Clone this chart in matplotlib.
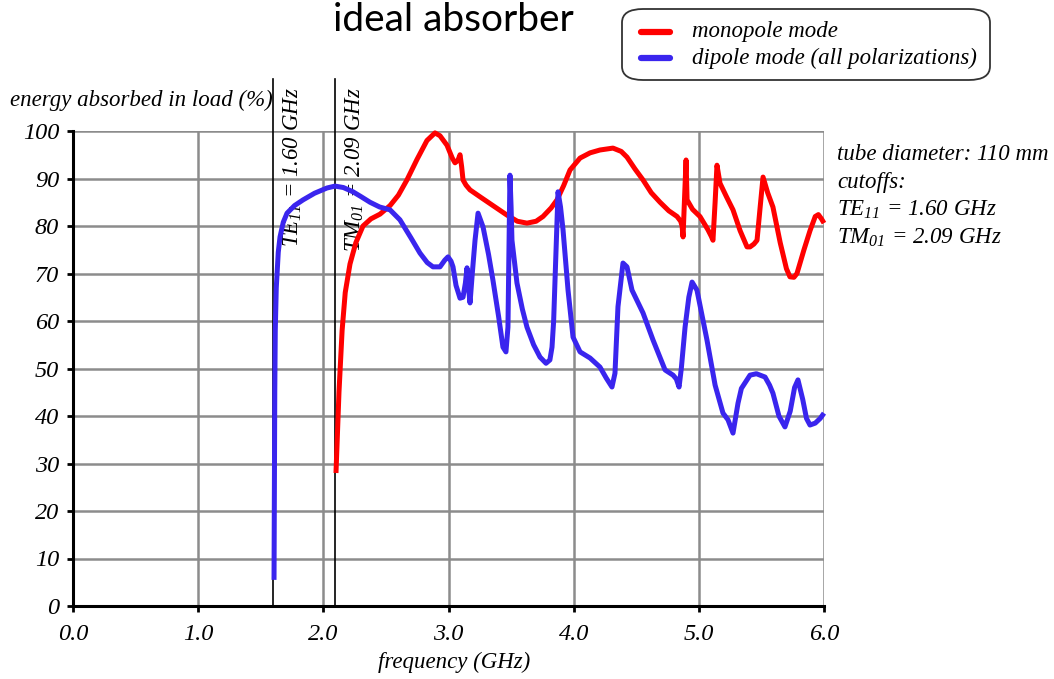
import matplotlib
matplotlib.use("Agg")
import matplotlib.pyplot as plt
from matplotlib.patches import FancyBboxPatch
from matplotlib.lines import Line2D

# Monopole mode: frequency (GHz) and absorbed energy (%)
mono_freq = [2.101, 2.125, 2.150, 2.175, 2.213, 2.260, 2.317, 2.380, 2.453, 2.533,
             2.600, 2.668, 2.748, 2.828, 2.892, 2.932, 2.988, 3.030, 3.052, 3.075,
             3.092, 3.105, 3.116, 3.140, 3.172, 3.260, 3.355, 3.467, 3.550, 3.627,
             3.700, 3.755, 3.820, 3.867, 3.920, 3.971, 4.051, 4.131, 4.210, 4.314,
             4.380, 4.426, 4.490, 4.554, 4.620, 4.690, 4.760, 4.826, 4.855, 4.866,
             4.874, 4.886, 4.898, 4.906, 4.950, 5.009, 5.073, 5.100, 5.113, 5.130,
             5.145, 5.169, 5.220, 5.273, 5.330, 5.385, 5.409, 5.440, 5.465, 5.490,
             5.513, 5.550, 5.592, 5.650, 5.700, 5.728, 5.760, 5.784, 5.840, 5.888,
             5.930, 5.955, 5.980, 6.000]
mono_val = [28.0, 45.0, 58.0, 66.0, 72.0, 76.5, 80.0, 81.5, 82.5, 84.3,
            86.5, 89.7, 94.0, 98.0, 99.6, 99.0, 97.0, 94.3, 93.3, 93.8,
            95.0, 92.5, 89.7, 88.6, 87.6, 86.0, 84.3, 82.3, 81.0, 80.6,
            81.0, 82.0, 83.8, 85.5, 88.5, 91.8, 94.3, 95.4, 96.0, 96.4,
            95.7, 94.5, 92.0, 89.7, 87.0, 85.0, 83.2, 82.0, 81.0, 80.0,
            77.7, 86.0, 93.9, 85.5, 83.5, 82.0, 79.2, 77.8, 77.0, 85.0,
            92.8, 89.0, 86.2, 83.4, 79.0, 75.6, 75.6, 76.2, 77.0, 84.0,
            90.3, 87.0, 84.0, 76.5, 71.0, 69.3, 69.2, 70.0, 75.0, 79.0,
            82.0, 82.4, 81.5, 80.6]

# Dipole mode (all polarizations)
dip_freq = [1.606, 1.609, 1.612, 1.616, 1.624, 1.640, 1.654, 1.680, 1.710, 1.770,
            1.838, 1.930, 2.029, 2.093, 2.160, 2.237, 2.300, 2.373, 2.450, 2.533,
            2.612, 2.700, 2.772, 2.830, 2.876, 2.932, 2.970, 2.996, 3.020, 3.036,
            3.060, 3.092, 3.116, 3.135, 3.148, 3.160, 3.172, 3.190, 3.212, 3.236,
            3.276, 3.320, 3.355, 3.400, 3.435, 3.459, 3.475, 3.483, 3.491, 3.500,
            3.507, 3.547, 3.590, 3.627, 3.680, 3.731, 3.779, 3.810, 3.827, 3.840,
            3.851, 3.875, 3.895, 3.915, 3.955, 3.995, 4.051, 4.131, 4.210, 4.260,
            4.306, 4.330, 4.354, 4.394, 4.426, 4.466, 4.554, 4.634, 4.730, 4.794,
            4.820, 4.842, 4.860, 4.890, 4.920, 4.946, 4.985, 5.065, 5.130, 5.193,
            5.233, 5.273, 5.313, 5.340, 5.409, 5.460, 5.529, 5.565, 5.592, 5.640,
            5.688, 5.730, 5.765, 5.792, 5.830, 5.860, 5.888, 5.930, 5.970, 6.000]
dip_val = [5.5, 25.0, 45.0, 58.0, 67.0, 74.5, 77.7, 80.8, 82.7, 84.3,
           85.5, 86.9, 88.0, 88.4, 88.1, 87.2, 86.2, 85.0, 84.0, 83.4,
           81.3, 77.5, 74.3, 72.3, 71.4, 71.4, 72.8, 73.5, 72.6, 71.4,
           67.5, 64.8, 65.0, 68.0, 71.2, 67.0, 63.8, 70.0, 77.0, 82.7,
           79.8, 74.0, 68.6, 61.0, 54.5, 53.5, 58.7, 75.0, 90.7, 84.0,
           77.0, 68.0, 62.5, 58.7, 55.0, 52.4, 51.1, 51.8, 54.5, 60.0,
           68.6, 87.2, 84.0, 79.2, 66.5, 56.6, 53.5, 52.2, 50.3, 48.0,
           46.1, 49.0, 63.0, 72.2, 71.4, 66.5, 61.7, 56.0, 49.7, 48.6,
           47.8, 46.1, 50.0, 58.7, 65.0, 68.2, 66.5, 56.0, 46.5, 40.6,
           39.2, 36.4, 42.7, 45.8, 48.6, 48.9, 48.2, 46.5, 44.8, 40.0,
           37.7, 41.0, 46.0, 47.6, 43.5, 39.5, 38.1, 38.5, 39.5, 40.6]

x_ticks = [0, 1, 2, 3, 4, 5, 6]
x_ticklabels = ["0.0", "1.0", "2.0", "3.0", "4.0", "5.0", "6.0"]
y_ticks = [0, 10, 20, 30, 40, 50, 60, 70, 80, 90, 100]
y_ticklabels = [str(v) for v in y_ticks]

cutoff_freqs = [1.60, 2.09]
cutoff_labels = ["TE$_{11}$ = 1.60 GHz", "TM$_{01}$ = 2.09 GHz"]

legend_labels = ["monopole mode", "dipole mode (all polarizations)"]
info_lines = ["tube diameter: 110 mm", "cutoffs:",
              "TE$_{11}$ = 1.60 GHz", "TM$_{01}$ = 2.09 GHz"]

RED = "#ff0000"
BLUE = "#3a25ee"
GRID = "#8c8c8c"

plt.rcParams["font.family"] = ["Liberation Serif", "DejaVu Serif"]
plt.rcParams["mathtext.fontset"] = "custom"
plt.rcParams["mathtext.rm"] = "Liberation Serif:italic"
plt.rcParams["mathtext.it"] = "Liberation Serif:italic"

W, H = 1054, 679
fig = plt.figure(figsize=(W / 100, H / 100), dpi=100)
ax = fig.add_axes([73 / W, 1 - 606 / H, (824 - 73) / W, (606 - 131) / H])

ax.set_xlim(0, 6)
ax.set_ylim(0, 100)
ax.grid(True, color=GRID, linewidth=1.8, zorder=0)
ax.set_axisbelow(True)

for s in ["top", "right"]:
    ax.spines[s].set_visible(False)
for s in ["left", "bottom"]:
    ax.spines[s].set_linewidth(2.2)
    ax.spines[s].set_color("black")
    ax.spines[s].set_zorder(5)

ax.tick_params(axis="both", direction="out", length=4, width=2, color="black")
ax.tick_params(axis="x", pad=9)
ax.tick_params(axis="y", pad=6)
ax.set_xticks(x_ticks)
ax.set_xticklabels(x_ticklabels, fontsize=17.5, fontstyle="italic")
ax.set_yticks(y_ticks)
ax.set_yticklabels(y_ticklabels, fontsize=17.5, fontstyle="italic")

# cutoff frequency markers, extending above the plot area
for f, lab in zip(cutoff_freqs, cutoff_labels):
    ax.plot([f, f], [0, 111], color="black", linewidth=1.2, clip_on=False, zorder=3)
    ax.text(f + 0.16, 109.3, lab, rotation=90, ha="center", va="top",
            fontsize=16.5, fontstyle="italic", zorder=4)

ax.plot(mono_freq, mono_val, color=RED, linewidth=3.6, solid_joinstyle="round",
        solid_capstyle="butt", zorder=6, clip_on=False)
ax.plot(dip_freq, dip_val, color=BLUE, linewidth=3.6, solid_joinstyle="round",
        solid_capstyle="butt", zorder=6, clip_on=False)

fig.text(10 / W, 1 - 100 / H, "energy absorbed in load (%)", fontsize=16.5,
         fontstyle="italic", ha="left", va="center")
fig.text(454 / W, 1 - 662 / H, "frequency (GHz)", fontsize=16.5,
         fontstyle="italic", ha="center", va="center")
fig.text(453 / W, 1 - 20 / H, "ideal absorber", fontsize=28,
         family=["Lato", "DejaVu Sans"], ha="center", va="center")

for i, line in enumerate(info_lines):
    fig.text(837 / W, 1 - (155 + i * 27.5) / H, line, fontsize=16.5,
             fontstyle="italic", ha="left", va="center")

# legend box
box = FancyBboxPatch((622 / W, 1 - 80 / H), (990 - 622) / W, (80 - 9) / H,
                     boxstyle="round,pad=0,rounding_size=0.02",
                     transform=fig.transFigure, facecolor="white",
                     edgecolor="#333333", linewidth=1.3)
fig.patches.append(box)
for i, (lab, col) in enumerate(zip(legend_labels, [RED, BLUE])):
    yy = 1 - (32 + i * 26) / H
    fig.lines.append(Line2D([641 / W, 670 / W], [yy, yy], color=col, linewidth=4.5,
                            solid_capstyle="round", transform=fig.transFigure))
    fig.text(692 / W, yy, lab, fontsize=16.5, fontstyle="italic",
             ha="left", va="center")

fig.savefig("out.png", dpi=100)
